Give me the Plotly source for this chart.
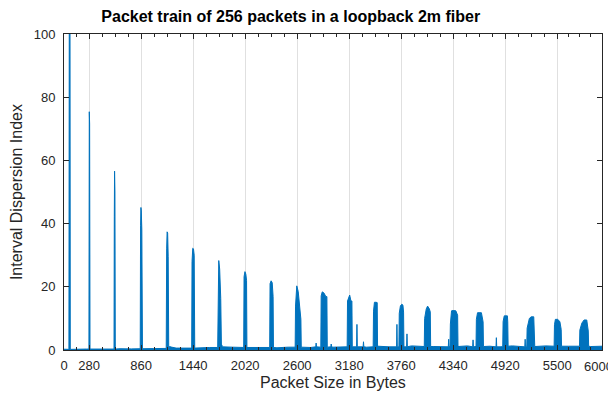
import plotly.graph_objects as go

# ---- data ----
x_tick_vals = [0, 280, 860, 1440, 2020, 2600, 3180, 3760, 4340, 4920, 5500, 6000]
x_tick_text = ["0", "280", "860", "1440", "2020", "2600", "3180", "3760", "4340", "4920", "5500", ""]
x_last_label = "6000"
y_tick_vals = [0, 20, 40, 60, 80, 100]

# baseline (noise floor) every 125 bytes
base_x = [i * 125 for i in range(49)]
base_y = [0.25, 0.3, 0.3, 0.35, 0.3, 0.4, 0.35, 0.4, 0.45,
          0.5, 0.6, 0.55, 0.7, 0.8, 1.2, 0.9, 0.8,
          0.8, 0.9, 0.7, 0.9, 1.0, 0.8, 1.0, 0.9,
          1.0, 1.1, 0.9, 1.2, 1.0, 1.1, 1.3, 1.0,
          1.1, 1.2, 1.0, 1.3, 1.1, 1.2, 1.0, 1.3,
          1.2, 1.1, 1.3, 1.0, 1.2, 1.4, 1.1, 1.2]

# main spikes: profile x / y
spike_x = [
    [55, 60, 66, 70],
    [278, 282, 286, 290],
    [558, 561, 564, 568, 572],
    [850, 854, 858, 862, 868, 872],
    [1140, 1145, 1150, 1156, 1162, 1168],
    [1424, 1428, 1436, 1444, 1452, 1458],
    [1714, 1718, 1726, 1736, 1748, 1756],
    [2004, 2008, 2018, 2028, 2036, 2040],
    [2294, 2298, 2310, 2322, 2332, 2336],
    [2578, 2582, 2596, 2612, 2628, 2642, 2646],
    [2864, 2868, 2880, 2900, 2920, 2932, 2936],
    [3158, 3162, 3186, 3200, 3211, 3215],
    [3448, 3452, 3462, 3480, 3493, 3497],
    [3735, 3739, 3752, 3768, 3780, 3787, 3791],
    [4018, 4022, 4040, 4055, 4075, 4085, 4089],
    [4305, 4309, 4322, 4340, 4370, 4390, 4394],
    [4595, 4599, 4612, 4630, 4655, 4674, 4678],
    [4893, 4897, 4910, 4930, 4945, 4949, 4953],
    [5161, 5165, 5190, 5210, 5239, 5243],
    [5466, 5470, 5480, 5505, 5530, 5545, 5549],
    [5749, 5753, 5775, 5800, 5830, 5847, 5851],
]
spike_y = [
    [0.2, 140, 140, 0.2],
    [0.3, 75.4, 71.5, 0.3],
    [0.3, 42.2, 56.6, 50, 0.3],
    [0.4, 39.5, 45.1, 44, 38, 0.4],
    [0.5, 32, 37.4, 37, 29.5, 0.5],
    [0.6, 28, 32.2, 32, 30, 0.6],
    [0.8, 24, 28.3, 25.6, 16.3, 0.8],
    [0.8, 23.2, 24.8, 24, 22, 0.8],
    [0.8, 21, 21.9, 21.3, 16.9, 0.8],
    [0.9, 13.9, 20.3, 18.5, 13.4, 9.7, 0.9],
    [0.9, 17.1, 18.4, 18, 16.9, 16.9, 0.9],
    [1.0, 15.5, 17.4, 15.5, 15.5, 1.0],
    [1.0, 12.3, 15.1, 15.1, 15, 1.0],
    [1.0, 11.6, 14, 14.5, 14.2, 12, 1.0],
    [1.1, 10, 13, 13.9, 13, 12, 1.1],
    [1.1, 8.2, 12.4, 12.5, 12.4, 11, 1.1],
    [1.1, 9.7, 11.8, 11.8, 11.8, 8.9, 1.1],
    [1.2, 9, 10.8, 10.8, 10.8, 8.9, 1.2],
    [1.2, 6.9, 10, 10.5, 10.5, 1.2],
    [1.2, 8, 9.7, 9.7, 9, 6.5, 1.2],
    [1.2, 6.3, 8.5, 9.5, 9.5, 6, 1.2],
]

# small isolated spikes
small_x = [1180, 1760, 2812, 2980, 3267, 3340, 3713, 3825, 4290, 4562, 4822, 5143]
small_y = [1.2, 1.6, 2.2, 1.9, 8.1, 2.6, 8.1, 5.1, 3.4, 3.2, 3.9, 3.4]
small_base = 1.0

# ---- assemble the trace ----
ranges = [(min(sx), max(sx)) for sx in spike_x] + [(sx - 4, sx + 4) for sx in small_x]
pts = []
for bx, by in zip(base_x, base_y):
    if not any(lo <= bx <= hi for lo, hi in ranges):
        pts.append((bx, by))
for sx, sy in zip(spike_x, spike_y):
    pts.extend(zip(sx, sy))
for sx, sy in zip(small_x, small_y):
    pts.extend([(sx - 4, small_base), (sx, sy), (sx + 4, small_base)])
pts.sort(key=lambda p: p[0])
xs = [p[0] for p in pts]
ys = [p[1] for p in pts]

blue = "#0072BD"
axcol = "#262626"
fam = "Liberation Sans"

fig = go.Figure()
fig.add_trace(go.Scatter(x=xs, y=ys, mode="lines", line=dict(color=blue, width=1),
                         fill="tozeroy", fillcolor=blue, showlegend=False))

minor_vals = [140] + [280 + 145 * k for k in range(1, 37) if k % 4 != 0] + [5625, 5750, 5875]

# the page body adds an 8px offset, so the figure is 8px smaller than the window
fig.update_layout(
    width=608, height=386,
    margin=dict(l=56, r=14, t=26, b=44, autoexpand=False),
    paper_bgcolor="white", plot_bgcolor="white",
    font=dict(family=fam, color=axcol, size=13),
    title=dict(text="<b>Packet train of 256 packets in a loopback 2m fiber</b>",
               x=0.465, xanchor="center", y=0.977, yanchor="middle", automargin=False,
               font=dict(family=fam, size=16, color="black")),
    xaxis=dict(range=[0, 6000], tickmode="array", tickvals=x_tick_vals, ticktext=x_tick_text,
               ticks="inside", ticklen=5, tickcolor=axcol, showline=True, linecolor=axcol,
               linewidth=1, mirror="ticks", showgrid=True, gridcolor="#e0e0e0", gridwidth=1,
               zeroline=False, tickfont=dict(family=fam, size=13, color=axcol),
               automargin=False, ticklabelstandoff=3,
               minor=dict(tickvals=minor_vals, ticks="inside", ticklen=3, tickcolor=axcol,
                          showgrid=False)),
    yaxis=dict(range=[0, 100], tickmode="array", tickvals=y_tick_vals,
               ticks="inside", ticklen=5, tickcolor=axcol, showline=True, linecolor=axcol,
               linewidth=1, mirror="ticks", showgrid=False, zeroline=False,
               tickfont=dict(family=fam, size=13, color=axcol), automargin=False,
               ticklabelstandoff=5),
    annotations=[
        dict(text=x_last_label, xref="x", yref="paper", x=x_tick_vals[-1], y=0,
             xanchor="center", yanchor="middle", xshift=-4, yshift=-16, showarrow=False,
             font=dict(family=fam, size=13, color=axcol)),
        dict(text="Packet Size in Bytes", xref="paper", yref="paper", x=0.5, y=-0.104,
             xanchor="center", yanchor="middle", showarrow=False,
             font=dict(family=fam, size=16, color=axcol)),
        dict(text="Interval Dispersion Index", xref="paper", yref="paper", x=-0.089, y=0.5,
             xanchor="center", yanchor="middle", textangle=-90, showarrow=False,
             font=dict(family=fam, size=16, color=axcol)),
    ],
)

fig.write_html("out.html")
